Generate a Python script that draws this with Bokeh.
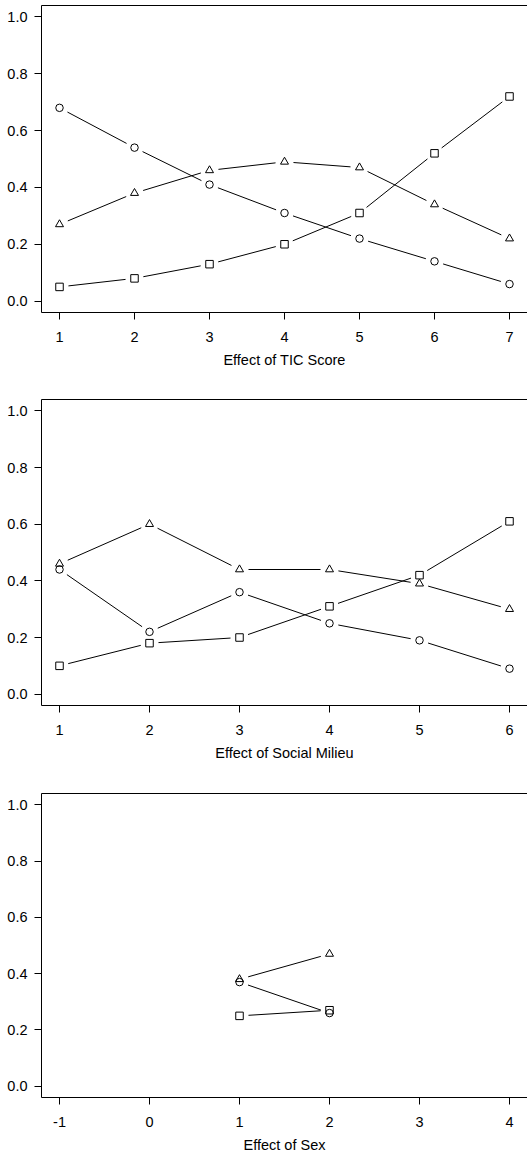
import math
from bokeh.plotting import figure
from bokeh.layouts import column
from bokeh.models import FixedTicker, LinearAxis, Range1d, ColumnDataSource
from bokeh.embed import file_html
from bokeh.resources import INLINE

# ---------------- data ----------------
tic_x = [1, 2, 3, 4, 5, 6, 7]
tic_circle = [0.68, 0.54, 0.41, 0.31, 0.22, 0.14, 0.06]
tic_triangle = [0.27, 0.38, 0.46, 0.49, 0.47, 0.34, 0.22]
tic_square = [0.05, 0.08, 0.13, 0.20, 0.31, 0.52, 0.72]
tic_ticks = [1, 2, 3, 4, 5, 6, 7]

milieu_x = [1, 2, 3, 4, 5, 6]
milieu_circle = [0.44, 0.22, 0.36, 0.25, 0.19, 0.09]
milieu_triangle = [0.46, 0.60, 0.44, 0.44, 0.39, 0.30]
milieu_square = [0.10, 0.18, 0.20, 0.31, 0.42, 0.61]
milieu_ticks = [1, 2, 3, 4, 5, 6]

sex_x = [1, 2]
sex_circle = [0.37, 0.26]
sex_triangle = [0.38, 0.47]
sex_square = [0.25, 0.27]
sex_ticks = [-1, 0, 1, 2, 3, 4]

y_ticks = [0.0, 0.2, 0.4, 0.6, 0.8, 1.0]

titles = ["Effect of TIC Score", "Effect of Social Milieu", "Effect of Sex"]

# ---------------- layout ----------------
FONT = "Liberation Sans"
FS = "14.5px"
WIDTH = 527
LEFT = 41
FRAME_W = WIDTH - LEFT
Y0, Y1 = -0.04, 1.04
GAP = 9.0  # px gap between line ends and markers (type="b")


def gapped(xs, ys, sx, sy, gap=GAP):
    x0, y0, x1, y1 = [], [], [], []
    for i in range(len(xs) - 1):
        dx = (xs[i + 1] - xs[i]) * sx
        dy = (ys[i + 1] - ys[i]) * sy
        L = math.hypot(dx, dy)
        if L <= 2 * gap:
            continue
        f = gap / L
        ddx = xs[i + 1] - xs[i]
        ddy = ys[i + 1] - ys[i]
        x0.append(xs[i] + ddx * f)
        y0.append(ys[i] + ddy * f)
        x1.append(xs[i + 1] - ddx * f)
        y1.append(ys[i + 1] - ddy * f)
    return dict(x0=x0, y0=y0, x1=x1, y1=y1)


def panel(xs, series, ticks, xr, label, top, frame_h, bottom):
    p = figure(width=WIDTH, height=top + frame_h + bottom,
               x_range=Range1d(*xr), y_range=Range1d(Y0, Y1),
               output_backend="svg", toolbar_location=None,
               min_border_left=LEFT, min_border_right=0,
               min_border_top=top, min_border_bottom=bottom)
    p.outline_line_color = None
    p.xgrid.visible = False
    p.ygrid.visible = False
    p.background_fill_color = "white"
    p.border_fill_color = "white"

    sx = FRAME_W / (xr[1] - xr[0])
    sy = frame_h / (Y1 - Y0)

    for ys, marker in series:
        p.segment(x0="x0", y0="y0", x1="x1", y1="y1",
                  source=ColumnDataSource(gapped(xs, ys, sx, sy)),
                  line_color="black", line_width=1)
    for ys, marker in series:
        size = 8 if marker == "triangle" else 7.5
        p.scatter(xs, ys, marker=marker, size=size, fill_color="white",
                  fill_alpha=0.0, line_color="black", line_width=1)

    xa = p.xaxis[0]
    xa.ticker = FixedTicker(ticks=ticks)
    xa.major_label_overrides = {t: str(t) for t in ticks}
    xa.axis_label = label
    ya = p.yaxis[0]
    ya.ticker = FixedTicker(ticks=y_ticks)
    ya.major_label_overrides = {t: "%.1f" % t for t in y_ticks}

    for ax in (xa, ya):
        ax.axis_line_color = "black"
        ax.axis_line_width = 1
        ax.major_tick_line_color = "black"
        ax.major_tick_out = 7
        ax.major_tick_in = 0
        ax.minor_tick_line_color = None
        ax.minor_tick_out = 0
        ax.major_label_text_font = FONT
        ax.major_label_text_font_size = FS
        ax.major_label_text_color = "black"
        ax.axis_label_text_font = FONT
        ax.axis_label_text_font_size = FS
        ax.axis_label_text_font_style = "normal"
        ax.axis_label_text_color = "black"
    xa.major_label_standoff = 12
    xa.axis_label_standoff = 7
    ya.major_label_standoff = 7

    top_axis = LinearAxis(ticker=FixedTicker(ticks=[]), major_tick_out=0,
                          major_tick_in=0, minor_tick_out=0, minor_tick_in=0,
                          major_label_text_font_size="0px",
                          major_label_standoff=0,
                          axis_line_color="black", axis_line_width=1)
    p.add_layout(top_axis, "above")
    return p


p1 = panel(tic_x, [(tic_circle, "circle"), (tic_triangle, "triangle"),
                   (tic_square, "square")],
           tic_ticks, (0.76, 7.24), titles[0], 5, 307, 58)
p2 = panel(milieu_x, [(milieu_circle, "circle"), (milieu_triangle, "triangle"),
                      (milieu_square, "square")],
           milieu_ticks, (0.8, 6.2), titles[1], 29, 306, 58)
p3 = panel(sex_x, [(sex_circle, "circle"), (sex_triangle, "triangle"),
                   (sex_square, "square")],
           sex_ticks, (-1.2, 4.2), titles[2], 30, 306, 56)

layout = column(p1, p2, p3, spacing=0)
open("out.html", "w").write(file_html(layout, INLINE))
